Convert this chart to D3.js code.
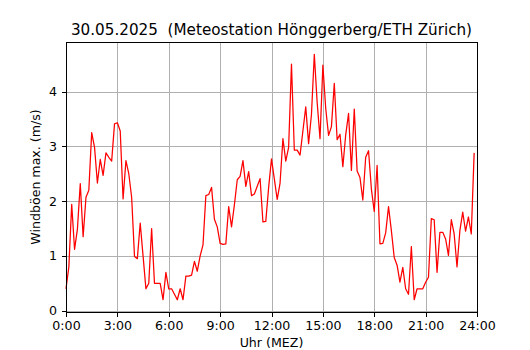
<!DOCTYPE html>
<html>
<head>
<meta charset="utf-8">
<script src="https://cdn.jsdelivr.net/npm/d3@7"></script>
<style>
  html, body { margin: 0; padding: 0; background: #fff; }
  svg { display: block; font-family: "DejaVu Sans", sans-serif; }
</style>
</head>
<body>
<svg id="chart" width="530" height="350"></svg>
<script>
// ---- data (10-minute maximum gusts, m/s) ----
const title = "30.05.2025  (Meteostation Hönggerberg/ETH Zürich)";
const xLabel = "Uhr (MEZ)";
const yLabel = "Windböen max. (m/s)";
const intervalMinutes = 10;
const gusts = [
  0.40, 0.80, 1.94, 1.12, 1.49, 2.32, 1.35, 2.07, 2.20, 3.25, 2.98, 2.33,
  2.76, 2.47, 2.88, 2.80, 2.73, 3.41, 3.43, 3.28, 2.04, 2.74, 2.50, 2.07,
  0.99, 0.95, 1.60, 1.00, 0.40, 0.50, 1.50, 0.50, 0.50, 0.50, 0.20, 0.70,
  0.40, 0.40, 0.30, 0.20, 0.40, 0.20, 0.63, 0.63, 0.65, 0.90, 0.72, 1.00,
  1.20, 2.10, 2.12, 2.25, 1.67, 1.53, 1.23, 1.21, 1.22, 1.90, 1.53, 1.93,
  2.39, 2.45, 2.74, 2.27, 2.54, 2.10, 2.13, 2.27, 2.41, 1.62, 1.63, 2.25,
  2.77, 2.40, 2.03, 2.33, 3.14, 2.73, 2.98, 4.50, 2.93, 2.93, 2.84, 3.28,
  3.72, 3.05, 3.58, 4.68, 3.80, 3.14, 4.48, 3.69, 3.20, 3.36, 4.15, 3.12,
  3.22, 2.63, 3.21, 3.60, 2.56, 3.68, 2.55, 2.43, 2.02, 2.80, 2.92, 2.22,
  1.81, 2.65, 1.22, 1.23, 1.42, 1.90, 1.46, 0.97, 0.83, 0.52, 0.79, 0.40,
  0.30, 1.17, 0.20, 0.40, 0.40, 0.40, 0.52, 0.61, 1.68, 1.66, 0.70, 1.43,
  1.43, 1.31, 1.01, 1.66, 1.40, 0.80, 1.46, 1.80, 1.45, 1.71, 1.40, 2.88
];
const xTickValues = [0, 3, 6, 9, 12, 15, 18, 21, 24];
const xTickLabels = ["0:00", "3:00", "6:00", "9:00", "12:00", "15:00", "18:00", "21:00", "24:00"];
const yTickValues = [0, 1, 2, 3, 4];

// ---- layout ----
const plotLeft = 66, plotRight = 477, plotTop = 42, plotBottom = 312;
const tickFont = "12.6px", titleFont = "15.2px";

const svg = d3.select("#chart");

const hours = gusts.map((_, i) => i * intervalMinutes / 60);
const yMin = d3.min(gusts), yMax = d3.max(gusts);
const pad = (yMax - yMin) * 0.05;

const x = d3.scaleLinear().domain([0, 24]).range([plotLeft, plotRight]);
const y = d3.scaleLinear().domain([yMin - pad, yMax + pad]).range([plotBottom, plotTop]);

// grid
const grid = svg.append("g").attr("shape-rendering", "crispEdges");
grid.selectAll("line.gx").data(xTickValues).join("line")
  .attr("x1", d => Math.round(x(d)) + 0.5).attr("x2", d => Math.round(x(d)) + 0.5)
  .attr("y1", plotTop).attr("y2", plotBottom)
  .attr("stroke", "#b0b0b0").attr("stroke-width", 1);
grid.selectAll("line.gy").data(yTickValues).join("line")
  .attr("y1", d => Math.round(y(d)) + 0.5).attr("y2", d => Math.round(y(d)) + 0.5)
  .attr("x1", plotLeft).attr("x2", plotRight)
  .attr("stroke", "#b0b0b0").attr("stroke-width", 1);

// line
const line = d3.line().x((d, i) => x(hours[i])).y(d => y(d));
svg.append("path").datum(gusts)
  .attr("d", line)
  .attr("fill", "none")
  .attr("stroke", "#ff0000")
  .attr("stroke-width", 1.25)
  .attr("stroke-linejoin", "round");

// axes
const xAxis = d3.axisBottom(x).tickValues(xTickValues)
  .tickFormat((d, i) => xTickLabels[i]).tickSize(4.5).tickPadding(4.5);
const gx = svg.append("g").attr("transform", `translate(0,${plotBottom})`).call(xAxis);
const yAxis = d3.axisLeft(y).tickValues(yTickValues).tickFormat(d3.format("d")).tickSize(4.5).tickPadding(4.5);
const gy = svg.append("g").attr("transform", `translate(${plotLeft},0)`).call(yAxis);

[gx, gy].forEach(g => {
  g.select(".domain").remove();
  g.selectAll(".tick line").attr("stroke", "#000").attr("stroke-width", 1).attr("shape-rendering", "crispEdges");
  g.selectAll(".tick text").attr("fill", "#000").style("font-size", tickFont).style("font-family", "DejaVu Sans");
});

// frame
svg.append("rect")
  .attr("x", plotLeft + 0.5).attr("y", plotTop + 0.5)
  .attr("width", plotRight - plotLeft).attr("height", plotBottom - plotTop)
  .attr("fill", "none").attr("stroke", "#000").attr("stroke-width", 1)
  .attr("shape-rendering", "crispEdges");

// title & labels
svg.append("text")
  .attr("x", (plotLeft + plotRight) / 2).attr("y", 34.5)
  .attr("text-anchor", "middle")
  .style("font-size", titleFont)
  .style("white-space", "pre")
  .text(title);

svg.append("text")
  .attr("x", (plotLeft + plotRight) / 2).attr("y", 346.5)
  .attr("text-anchor", "middle")
  .style("font-size", tickFont)
  .text(xLabel);

svg.append("text")
  .attr("transform", `translate(40,${(plotTop + plotBottom) / 2}) rotate(-90)`)
  .attr("text-anchor", "middle")
  .style("font-size", tickFont)
  .text(yLabel);
</script>
</body>
</html>
